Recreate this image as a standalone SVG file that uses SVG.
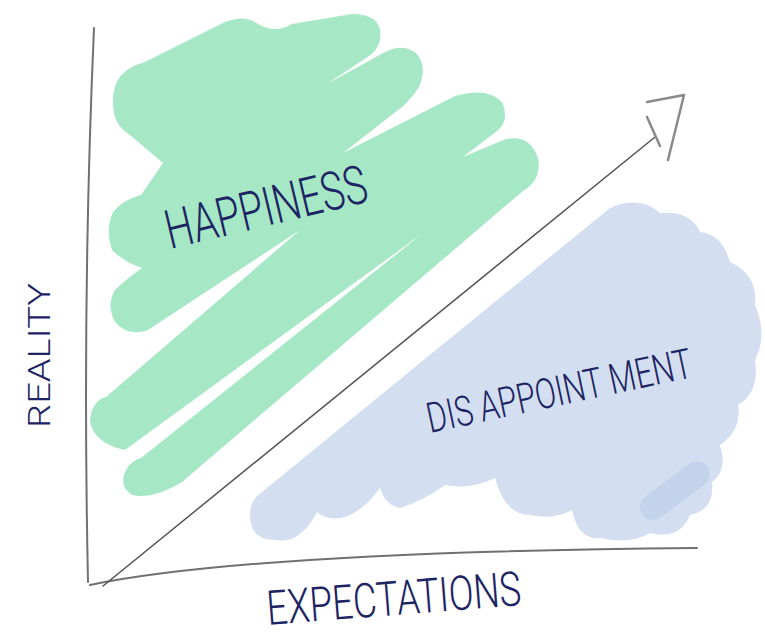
<svg xmlns="http://www.w3.org/2000/svg" width="765" height="636" viewBox="0 0 765 636">
<style>
.gfill{fill:#a6e8c6}
.blue{fill:#d3dff0}
.axis{fill:none;stroke:#707070;stroke-width:2;stroke-linecap:round}
.hand{font-family:Roboto,"Liberation Sans",sans-serif;font-weight:300;fill:#1d2464}
</style>
<rect width="765" height="636" fill="#ffffff"/>
<g id="happiness-area">
  <path class="gfill" d="M113,100 Q113,70 145,62 L225,22 Q245,14 258,24 Q275,34 292,24 L352,14 Q384,14 380,40 Q377,52 366,58 L327,84 L385,52 Q402,43 416,53 Q428,66 419,87 Q412,98 402,107 L343,153 L455,96 Q490,86 503,104 Q509,122 497,131 L463,157 L506,139 Q530,134 538,158 Q542,180 523,191 L182,482 Q152,500 132,495 Q118,486 126,470 Q132,460 141,458 L423,233 L125,450 Q95,444 90,422 Q91,401 106,397 L300,230 L148,330 Q128,337 115,322 Q106,305 115,290 Q125,280 142,268 Q124,262 112,250 Q105,230 113,212 Q122,200 141,195 L163,163 Q150,152 130,135 Q112,125 113,100 Z"/>
  <text class="hand" font-size="54" textLength="206" lengthAdjust="spacingAndGlyphs" transform="translate(170,249) rotate(-13.4)">HAPPINESS</text>
</g>
<g id="disappointment-area">
  <path class="blue" d="M262,492 L610,208 Q640,195 660,213 Q690,210 700,232 Q722,234 730,262 Q758,275 755,305 Q768,335 755,360 Q760,392 738,405 Q742,430 720,445 Q728,470 712,482 Q715,510 690,515 Q680,540 650,533 Q630,545 600,538 Q578,540 572,510 Q555,520 530,515 Q505,515 495,478 Q470,490 445,485 Q425,500 400,508 Q385,505 380,488 Q360,515 340,518 Q325,520 317,512 Q300,545 275,540 Q250,540 250,515 Q250,500 262,492 Z"/>
  <line x1="653" y1="507" x2="697" y2="474" stroke="#c3d3eb" stroke-width="26" stroke-linecap="round"/>
  <text class="hand" font-size="42" textLength="270" lengthAdjust="spacingAndGlyphs" transform="translate(430,433) rotate(-12)">DIS<tspan dx="10">APPOINT</tspan><tspan dx="10">MENT</tspan></text>
</g>
<g id="connectors">
  <path class="axis" d="M94,28 Q82,300 88,582"/>
  <path class="axis" d="M90,585 Q250,552 697,548"/>
  <path d="M103,586 L655,137" fill="none" stroke="#555555" stroke-width="1.5" stroke-linecap="round"/>
  <path d="M647,102 L684,95 L668,160 M647,117 L660,146" fill="none" stroke="#8a8a8a" stroke-width="2.5" stroke-linecap="round" stroke-linejoin="round"/>
</g>
<g id="labels">
  <text class="hand" font-size="48" textLength="255" lengthAdjust="spacingAndGlyphs" transform="translate(268,625) rotate(-4.5)">EXPECTATIONS</text>
  <text class="hand" font-size="32" textLength="145" lengthAdjust="spacingAndGlyphs" transform="translate(50,428) rotate(-90)">REALITY</text>
</g>
</svg>
